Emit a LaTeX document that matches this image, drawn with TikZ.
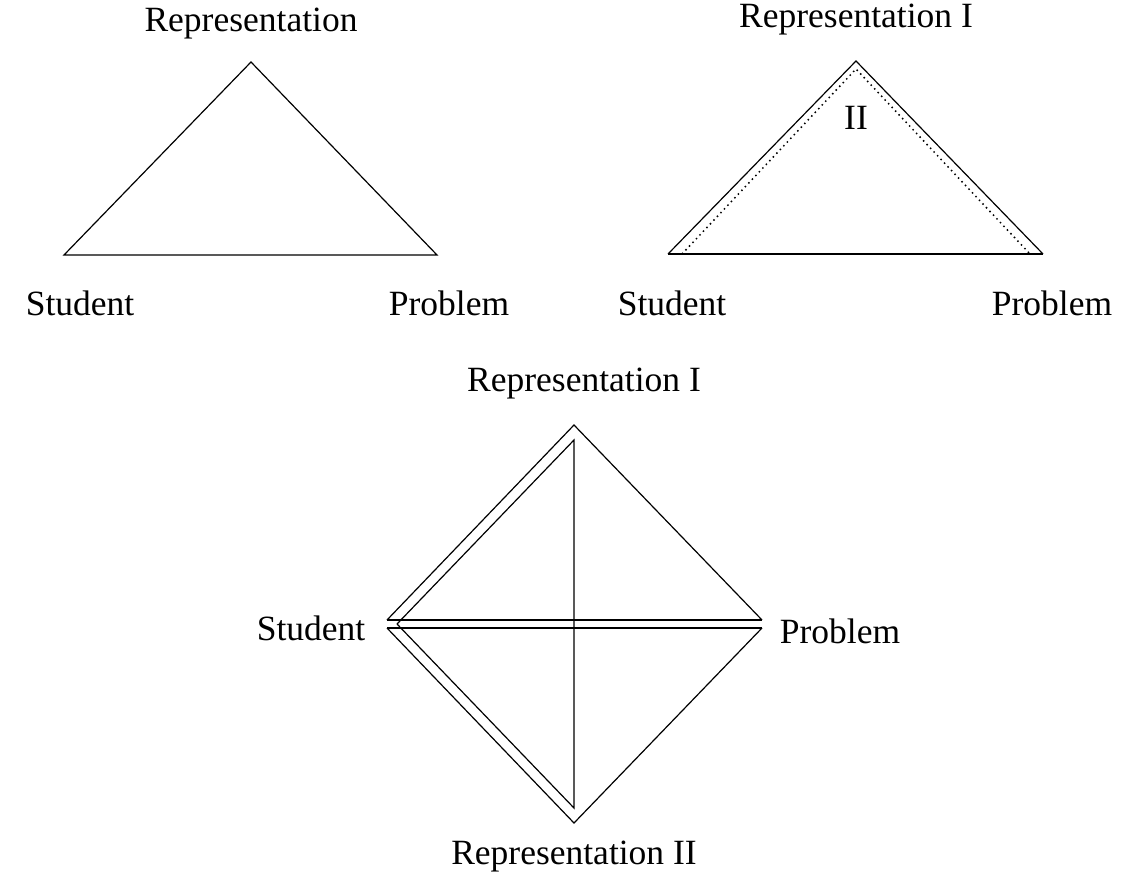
\documentclass[tikz,border=0pt]{standalone}
\usepackage{fontspec}
\setmainfont{Liberation Serif}
\begin{document}
\begin{tikzpicture}[x=1pt,y=-1pt,
  lbl/.style={inner sep=0pt,font=\fontsize{35.5}{42}\selectfont},
  edge/.style={line width=1.2pt,line join=miter},
  base/.style={line width=2pt},
  dotline/.style={line width=1.5pt,dash pattern=on 1.5pt off 3.6pt}]
\useasboundingbox (0,0) rectangle (1129,875);
% ---- triangle 1
\coordinate (a1) at (251,62);
\coordinate (s1) at (64,255);
\coordinate (p1) at (437,255);
\draw[edge] (s1) -- (a1) -- (p1) -- cycle;
\node[lbl] (ta1) at (251,24) {Representation};
\node[lbl] (ts1) at (80,303) {Student};
\node[lbl] (tp1) at (449,303) {Problem};
% ---- triangle 2
\coordinate (a2) at (856,61);
\coordinate (s2) at (668,254);
\coordinate (p2) at (1043,254);
\coordinate (a2i) at (856,69);
\coordinate (s2i) at (682,254);
\coordinate (p2i) at (1030,254);
\draw[edge] (s2) -- (a2) -- (p2);
\draw[base] (s2) -- (p2);
\draw[dotline] (s2i) -- (a2i) -- (p2i);
\node[lbl] (ta2) at (856,20) {Representation I};
\node[lbl] (tii) at (856,118) {II};
\node[lbl] (ts2) at (672,303) {Student};
\node[lbl] (tp2) at (1052,303) {Problem};
% ---- diamond
\coordinate (r1) at (574,425);
\coordinate (r1i) at (574,440);
\coordinate (r2) at (574,823);
\coordinate (r2i) at (574,808);
\coordinate (su) at (387,620);
\coordinate (sl) at (387,628);
\coordinate (si) at (397,624);
\coordinate (pu) at (762,620);
\coordinate (pl) at (762,628);
\draw[edge] (su) -- (r1) -- (pu);
\draw[base] (su) -- (pu);
\draw[base] (sl) -- (pl);
\draw[edge] (sl) -- (r2) -- (pl);
\draw[edge] (si) -- (r1i) -- (r2i) -- (si);
\node[lbl] (tr1) at (584,384) {Representation I};
\node[lbl] (tr2) at (574,857) {Representation II};
\node[lbl] (tsd) at (311,628) {Student};
\node[lbl] (tpd) at (840,631) {Problem};
\end{tikzpicture}
\end{document}
